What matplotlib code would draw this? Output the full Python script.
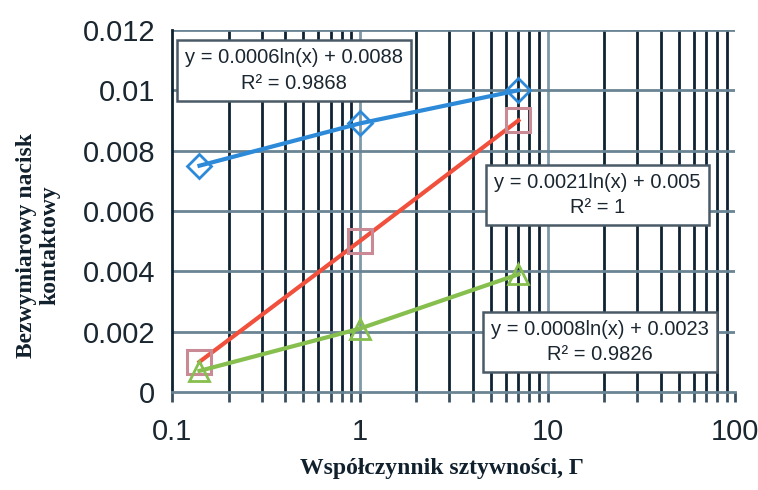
import numpy as np
import matplotlib.pyplot as plt
from matplotlib.ticker import LogLocator, FixedLocator, NullFormatter

# Data
gamma = [0.14, 1.0, 7.0]
series_blue = [0.0075, 0.0089, 0.0100]
series_red = [0.0010, 0.0050, 0.0090]
series_green = [0.0007, 0.0021, 0.0039]

y_ticks = [0, 0.002, 0.004, 0.006, 0.008, 0.01, 0.012]
y_tick_labels = ['0', '0.002', '0.004', '0.006', '0.008', '0.01', '0.012']
x_ticks = [0.1, 1, 10, 100]
x_tick_labels = ['0.1', '1', '10', '100']

eq_blue = 'y = 0.0006ln(x) + 0.0088\nR² = 0.9868'
eq_red = 'y = 0.0021ln(x) + 0.005\nR² = 1'
eq_green = 'y = 0.0008ln(x) + 0.0023\nR² = 0.9826'

fig = plt.figure(figsize=(7.58, 4.90), dpi=100)
ax = fig.add_axes([0.227, 0.2, 0.743, 0.739])

ax.set_xscale('log')
ax.set_xlim(0.1, 100)
ax.set_ylim(0, 0.012)

# Grid: minor verticals black, majors lighter
minor_pos = [m * 10.0 ** e for e in (-1, 0, 1) for m in range(2, 10)]
for xv in minor_pos:
    ax.axvline(xv, color='#0e2232', lw=2.0, zorder=1)
for xv in [1, 10]:
    ax.axvline(xv, color='#7f99a8', lw=2.0, zorder=1)
for yv in y_ticks[1:]:
    ax.axhline(yv, color='#6a8494', lw=2.0, zorder=1)

ax.plot(gamma, series_blue, color='#2c8ad8', lw=3, marker='D', ms=12,
        mfc='none', mec='#2c8ad8', mew=2.0, zorder=3)
ax.plot(gamma, series_red, color='#f0503c', lw=3, marker='s', ms=17,
        mfc='none', mec='#c98a96', mew=2.2, zorder=3)
ax.plot(gamma, series_green, color='#86bf4e', lw=3, marker='^', ms=15,
        mfc='none', mec='#86bf4e', mew=2.0, zorder=3)

# Trendline equation boxes
box = dict(boxstyle='square,pad=0.4', fc='white', ec='#4a5a66', lw=1.8)
for txt, bx, by in [(eq_blue, 0.217, 0.887), (eq_red, 0.755, 0.544),
                    (eq_green, 0.760, 0.138)]:
    ax.text(bx, by, txt, transform=ax.transAxes, fontsize=14.5,
            family='Liberation Sans', ha='center', va='center',
            linespacing=1.45, color='#1a2630', bbox=box, zorder=5)

ax.xaxis.set_major_locator(FixedLocator(x_ticks))
ax.set_xticklabels(x_tick_labels)
ax.xaxis.set_minor_locator(LogLocator(base=10, subs=np.arange(2, 10)))
ax.xaxis.set_minor_formatter(NullFormatter())
ax.set_yticks(y_ticks)
ax.set_yticklabels(y_tick_labels)

ax.tick_params(axis='x', which='both', direction='out', length=7, width=2,
               color='#3a5060', pad=12)
ax.tick_params(axis='y', which='both', length=0, pad=12)
for lab in ax.get_xticklabels() + ax.get_yticklabels():
    lab.set_fontfamily('Liberation Sans')
    lab.set_fontsize(21)
    lab.set_color('#1a2630')

for side in ['top', 'right']:
    ax.spines[side].set_visible(False)
ax.spines['left'].set_color('#0e2232')
ax.spines['left'].set_linewidth(2)
ax.spines['bottom'].set_color('#6a8494')
ax.spines['bottom'].set_linewidth(2)

fig.text(0.05, 0.5, 'Bezwymiarowy nacisk\nkontaktowy', rotation=90,
         ha='center', va='center', fontsize=17, family='Liberation Serif',
         fontweight='bold', color='#10202c', linespacing=1.15)
fig.text(0.583, 0.043, 'Współczynnik sztywności, Γ', ha='center', va='center',
         fontsize=17, family='Liberation Serif', fontweight='bold',
         color='#10202c')

fig.savefig('out.png', dpi=100)
